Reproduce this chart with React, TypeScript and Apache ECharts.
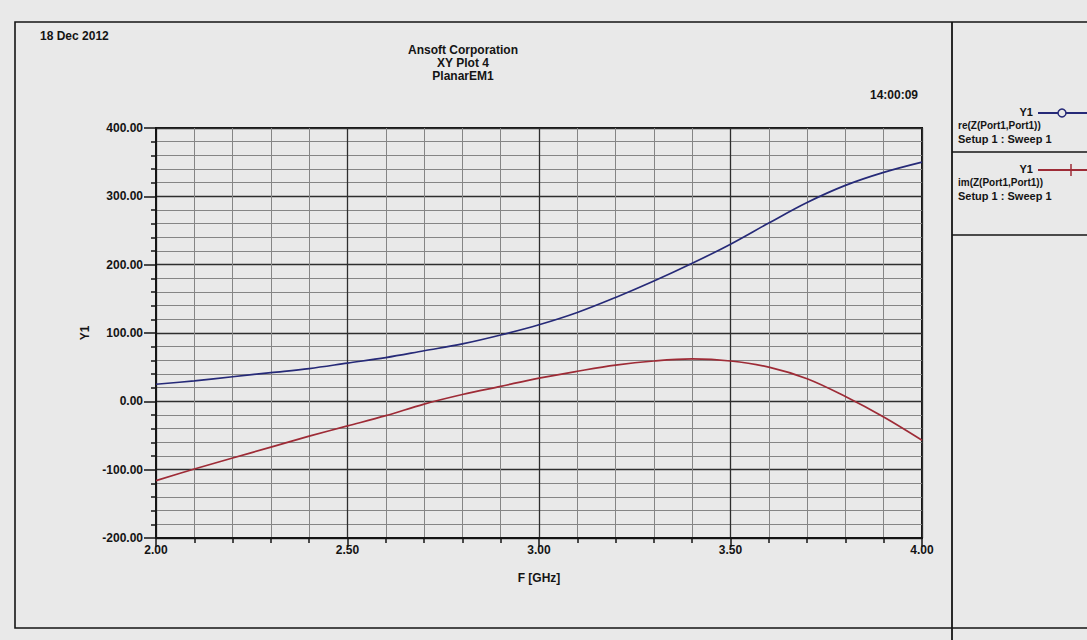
import { useEffect, useRef } from "react";
import * as echarts from "echarts";

// ---- data ----
const freqGHz = [2.0, 2.1, 2.2, 2.3, 2.4, 2.5, 2.6, 2.7, 2.8, 2.9, 3.0, 3.1, 3.2, 3.3, 3.4, 3.5, 3.6, 3.7, 3.8, 3.9, 4.0];
const reZ = [25, 30, 36, 42, 48, 56, 64, 74, 84, 97, 112, 130, 152, 176, 202, 230, 261, 291, 316, 335, 350];
const imZ = [-116, -99, -83, -67, -51, -36, -21, -4, 10, 22, 34, 44, 53, 59, 62, 59, 50, 33, 7, -23, -57];

const seriesNames = ["re(Z(Port1,Port1))", "im(Z(Port1,Port1))"];
const seriesColors = ["#262a78", "#9e2b36"];
const traceLabel = "Y1";
const sweepLabel = "Setup 1 : Sweep 1";
const titleLines = ["Ansoft Corporation", "XY Plot 4", "PlanarEM1"];
const dateText = "18 Dec 2012";
const timeText = "14:00:09";
const xAxisName = "F [GHz]";
const yAxisName = "Y1";

const FONT = "'Liberation Sans', Arial, sans-serif";
const PAPER = "#e9e9e9";
const INK = "#141414";

export default function App() {
  const ref = useRef<HTMLDivElement>(null);

  useEffect(() => {
    if (!ref.current) return;
    const chart = echarts.init(ref.current, undefined, { renderer: "svg" });

    const txt = (text: string, x: number, y: number, size: number, align: string = "left") => ({
      type: "text",
      x,
      y,
      style: {
        text,
        fill: INK,
        font: `bold ${size}px ${FONT}`,
        textAlign: align,
        textVerticalAlign: "middle",
      },
      silent: true,
    });

    const legendEntries: any[] = [];
    const rowY = [113, 170];
    seriesNames.forEach((name, i) => {
      const y = rowY[i];
      legendEntries.push(txt(traceLabel, 1033, y - 1, 11, "right"));
      legendEntries.push({
        type: "line",
        shape: { x1: 1038, y1: y, x2: 1090, y2: y },
        style: { stroke: seriesColors[i], lineWidth: 2 },
        silent: true,
      });
      if (i === 0) {
        legendEntries.push({
          type: "circle",
          shape: { cx: 1062, cy: y, r: 4 },
          style: { fill: PAPER, stroke: seriesColors[i], lineWidth: 1.5 },
          silent: true,
        });
      } else {
        legendEntries.push({
          type: "line",
          shape: { x1: 1071, y1: y - 6, x2: 1071, y2: y + 6 },
          style: { stroke: seriesColors[i], lineWidth: 1.5 },
          silent: true,
        });
      }
      legendEntries.push(txt(name, 958, y + 12, 10));
      legendEntries.push(txt(sweepLabel, 958, y + 26, 11));
    });

    const axisText = { color: INK, fontWeight: "bold", fontSize: 12, fontFamily: FONT };

    const option: any = {
      animation: false,
      backgroundColor: PAPER,
      textStyle: { fontFamily: FONT },
      grid: {
        left: 156,
        right: 165,
        top: 128,
        bottom: 102,
        show: true,
        borderColor: INK,
        borderWidth: 2,
        backgroundColor: "transparent",
      },
      xAxis: {
        type: "value",
        min: 2,
        max: 4,
        interval: 0.5,
        name: xAxisName,
        nameLocation: "middle",
        nameGap: 34,
        nameTextStyle: axisText,
        axisLine: { show: true, onZero: false, lineStyle: { color: INK, width: 2 } },
        axisTick: { show: true, length: 9, lineStyle: { color: INK, width: 1.5 } },
        minorTick: { show: true, splitNumber: 5, length: 5, lineStyle: { color: INK, width: 1.5 } },
        axisLabel: { margin: 6, ...axisText, formatter: (v: number) => v.toFixed(2) },
        splitLine: { show: true, lineStyle: { color: "#2e2e2e", width: 1.3 } },
        minorSplitLine: { show: true, lineStyle: { color: "#858585", width: 1 } },
      },
      yAxis: {
        type: "value",
        min: -200,
        max: 400,
        interval: 100,
        name: yAxisName,
        nameLocation: "middle",
        nameRotate: 90,
        nameGap: 62,
        nameTextStyle: axisText,
        axisLine: { show: true, onZero: false, lineStyle: { color: INK, width: 2 } },
        axisTick: { show: true, length: 12, lineStyle: { color: INK, width: 1.5 } },
        minorTick: { show: true, splitNumber: 5, length: 5, lineStyle: { color: INK, width: 1.5 } },
        axisLabel: { margin: 13, ...axisText, formatter: (v: number) => v.toFixed(2) },
        splitLine: { show: true, lineStyle: { color: "#2e2e2e", width: 1.3 } },
        minorSplitLine: { show: true, lineStyle: { color: "#858585", width: 1 } },
      },
      series: [
        {
          name: seriesNames[0],
          type: "line",
          smooth: 0.35,
          showSymbol: false,
          data: freqGHz.map((f, i) => [f, reZ[i]]),
          lineStyle: { color: seriesColors[0], width: 1.7 },
          itemStyle: { color: seriesColors[0] },
          z: 5,
        },
        {
          name: seriesNames[1],
          type: "line",
          smooth: 0.35,
          showSymbol: false,
          data: freqGHz.map((f, i) => [f, imZ[i]]),
          lineStyle: { color: seriesColors[1], width: 1.7 },
          itemStyle: { color: seriesColors[1] },
          z: 5,
        },
      ],
      graphic: [
        {
          type: "rect",
          shape: { x: 15, y: 22, width: 1090, height: 606 },
          style: { fill: "none", stroke: INK, lineWidth: 1.6 },
          silent: true,
          z: -1,
        },
        {
          type: "line",
          shape: { x1: 952, y1: 22, x2: 952, y2: 640 },
          style: { stroke: INK, lineWidth: 1.8 },
          silent: true,
        },
        {
          type: "line",
          shape: { x1: 952, y1: 152, x2: 1087, y2: 152 },
          style: { stroke: INK, lineWidth: 1.5 },
          silent: true,
        },
        {
          type: "line",
          shape: { x1: 952, y1: 235, x2: 1087, y2: 235 },
          style: { stroke: INK, lineWidth: 1.5 },
          silent: true,
        },
        txt(dateText, 40, 36, 12),
        txt(titleLines[0], 463, 50, 12, "center"),
        txt(titleLines[1], 463, 63, 12, "center"),
        txt(titleLines[2], 463, 76, 12, "center"),
        txt(timeText, 918, 95, 12, "right"),
        ...legendEntries,
      ],
    };

    chart.setOption(option);
    return () => chart.dispose();
  }, []);

  return (
    <div style={{ position: "fixed", left: 0, top: 0, width: 1087, height: 640, background: PAPER }}>
      <div ref={ref} style={{ width: 1087, height: 640 }} />
    </div>
  );
}
